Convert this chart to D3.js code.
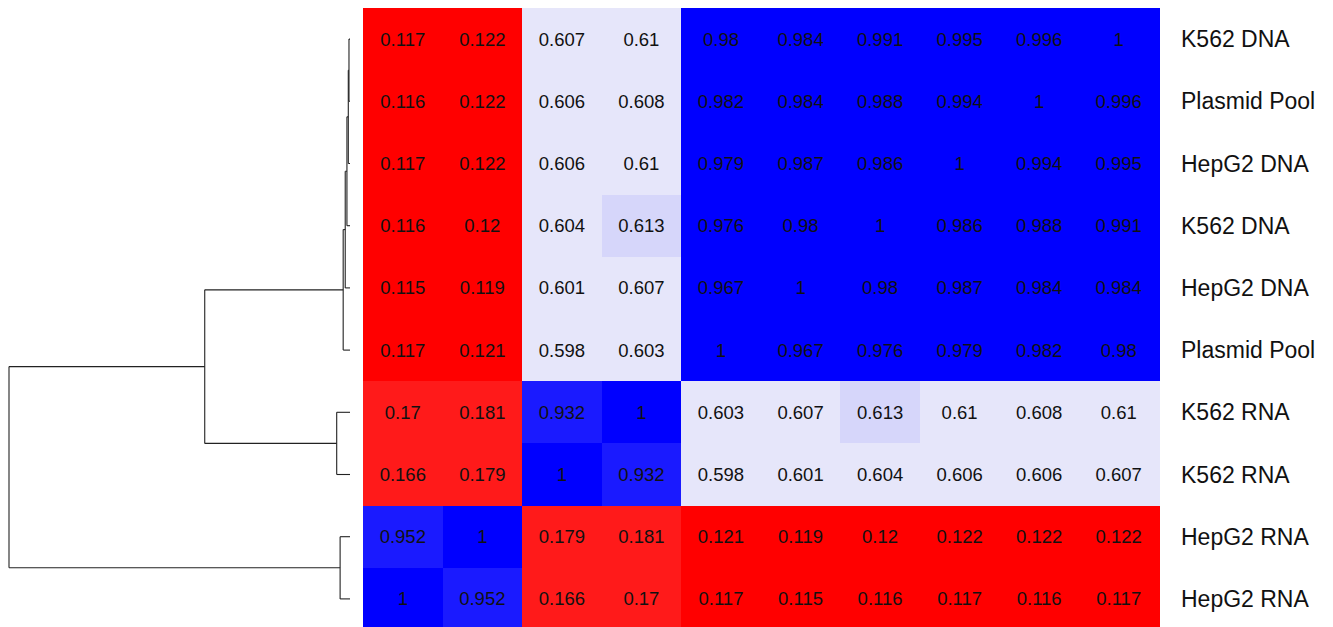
<!DOCTYPE html>
<html>
<head>
<meta charset="utf-8">
<script src="https://cdn.jsdelivr.net/npm/d3@7"></script>
<style>
  html, body { margin: 0; padding: 0; background: #fff; }
  svg { display: block; }
  text { font-family: "Liberation Sans", Arial, sans-serif; }
</style>
</head>
<body>
<svg id="chart" width="1333" height="627"></svg>
<script>
// Sample labels, top to bottom (rows) and left to right (columns = rows reversed)
const rowLabels = ["K562 DNA", "Plasmid Pool", "HepG2 DNA", "K562 DNA", "HepG2 DNA",
                   "Plasmid Pool", "K562 RNA", "K562 RNA", "HepG2 RNA", "HepG2 RNA"];
const colKeys = d3.range(10).map(i => "c" + i);

// Pairwise correlation values, one array per row
const row0 = [0.117, 0.122, 0.607, 0.61, 0.98, 0.984, 0.991, 0.995, 0.996, 1];
const row1 = [0.116, 0.122, 0.606, 0.608, 0.982, 0.984, 0.988, 0.994, 1, 0.996];
const row2 = [0.117, 0.122, 0.606, 0.61, 0.979, 0.987, 0.986, 1, 0.994, 0.995];
const row3 = [0.116, 0.12, 0.604, 0.613, 0.976, 0.98, 1, 0.986, 0.988, 0.991];
const row4 = [0.115, 0.119, 0.601, 0.607, 0.967, 1, 0.98, 0.987, 0.984, 0.984];
const row5 = [0.117, 0.121, 0.598, 0.603, 1, 0.967, 0.976, 0.979, 0.982, 0.98];
const row6 = [0.17, 0.181, 0.932, 1, 0.603, 0.607, 0.613, 0.61, 0.608, 0.61];
const row7 = [0.166, 0.179, 1, 0.932, 0.598, 0.601, 0.604, 0.606, 0.606, 0.607];
const row8 = [0.952, 1, 0.179, 0.181, 0.121, 0.119, 0.12, 0.122, 0.122, 0.122];
const row9 = [1, 0.952, 0.166, 0.17, 0.117, 0.115, 0.116, 0.117, 0.116, 0.117];
const matrix = [row0, row1, row2, row3, row4, row5, row6, row7, row8, row9];

// Colour bins
const colorBreaks = [0.15, 0.5, 0.611, 0.9, 0.96];
const colorBins = ["#ff0000", "#ff1a1a", "#e6e6fa", "#d6d6fa", "#1a1aff", "#0000ff"];

// Row clustering tree; merge heights on a 0..1 scale
const tree = {
  h: 1.0, children: [
    { h: 0.426, children: [
      { h: 0.020, children: [
        { h: 0.014, children: [
          { h: 0.009, children: [
            { h: 0.005, children: [
              { h: 0.003, children: [{ leaf: 0 }, { leaf: 1 }] },
              { leaf: 2 } ] },
            { leaf: 3 } ] },
          { leaf: 4 } ] },
        { leaf: 5 } ] },
      { h: 0.039, children: [{ leaf: 6 }, { leaf: 7 }] } ] },
    { h: 0.029, children: [{ leaf: 8 }, { leaf: 9 }] } ]
};

const svg = d3.select("#chart");

const heat = { left: 363, right: 1158.5, top: 8, rowH: 62.2 };
const x = d3.scaleBand().domain(colKeys).range([heat.left, heat.right]).padding(0);
const y = d3.scaleBand().domain(d3.range(rowLabels.length))
  .range([heat.top, heat.top + heat.rowH * rowLabels.length]).padding(0);
const color = d3.scaleThreshold().domain(colorBreaks).range(colorBins);

// Heatmap cells
const cells = [];
matrix.forEach((row, r) => row.forEach((v, c) => cells.push({ r, c, v })));

const g = svg.append("g");
g.selectAll("rect.cell").data(cells).join("rect")
  .attr("class", "cell")
  .attr("shape-rendering", "crispEdges")
  .attr("x", d => x(colKeys[d.c]))
  .attr("y", d => y(d.r))
  .attr("width", x.bandwidth() + 1)
  .attr("height", y.bandwidth() + 1)
  .attr("fill", d => color(d.v));

g.selectAll("text.val").data(cells).join("text")
  .attr("class", "val")
  .attr("x", d => x(colKeys[d.c]) + x.bandwidth() / 2)
  .attr("y", d => y(d.r) + y.bandwidth() / 2)
  .attr("text-anchor", "middle")
  .attr("dominant-baseline", "central")
  .attr("font-size", 18.5)
  .attr("fill", "#111")
  .text(d => String(d.v));

// Row labels
svg.selectAll("text.rowlab").data(rowLabels).join("text")
  .attr("class", "rowlab")
  .attr("x", 1181)
  .attr("y", (d, i) => y(i) + y.bandwidth() / 2)
  .attr("dominant-baseline", "central")
  .attr("font-size", 23)
  .attr("fill", "#111")
  .text(d => d);

// Dendrogram
const root = d3.hierarchy(tree);
const hx = d3.scaleLinear().domain([0, 1]).range([350, 9]);
root.eachAfter(n => {
  if (!n.children) {
    n.py = y(n.data.leaf) + y.bandwidth() / 2;
    n.px = hx(0);
  } else {
    const ys = n.children.map(c => c.py);
    n.py = (d3.min(ys) + d3.max(ys)) / 2;
    n.px = hx(n.data.h);
  }
});

const dg = svg.append("g")
  .attr("fill", "none")
  .attr("stroke", "#222")
  .attr("stroke-width", 1.1);

root.descendants().filter(n => n.children).forEach(n => {
  const ys = n.children.map(c => c.py);
  dg.append("line")
    .attr("x1", n.px).attr("x2", n.px)
    .attr("y1", d3.min(ys)).attr("y2", d3.max(ys));
  n.children.forEach(c => {
    dg.append("line")
      .attr("x1", n.px).attr("x2", c.px)
      .attr("y1", c.py).attr("y2", c.py);
  });
});
</script>
</body>
</html>
